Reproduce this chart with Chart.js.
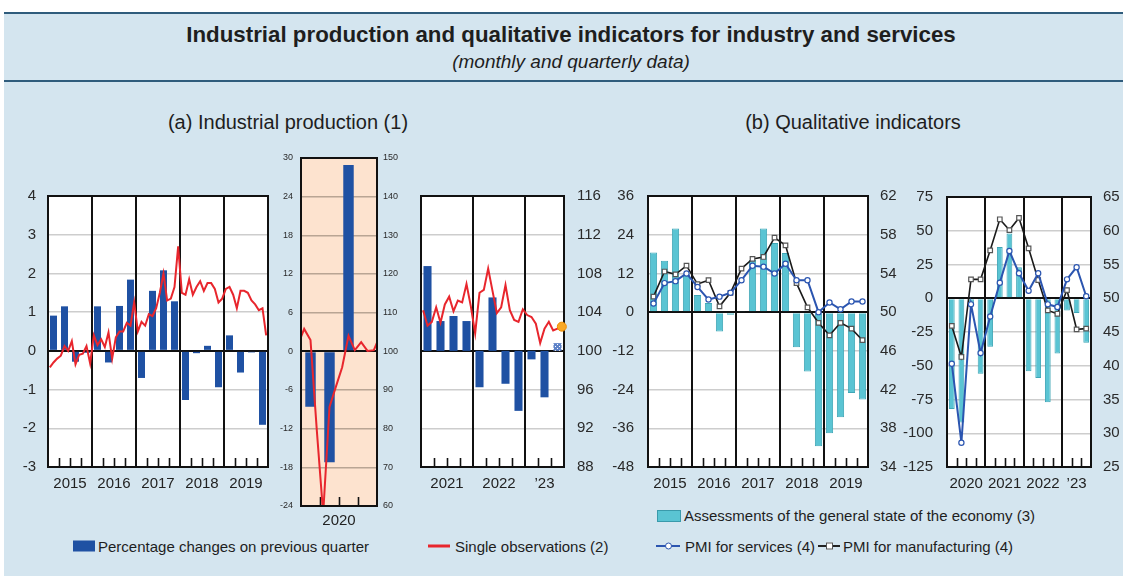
<!DOCTYPE html>
<html><head><meta charset="utf-8">
<script src="https://cdn.jsdelivr.net/npm/chart.js@4.4.1/dist/chart.umd.min.js"></script>
<style>
html,body{margin:0;padding:0;background:#fff;}
#page{position:relative;width:1123px;height:576px;overflow:hidden;background:#fff;font-family:"Liberation Sans",Arial,sans-serif;color:#1e1e1e;}
#panel{position:absolute;left:4px;top:12px;right:0;bottom:0;background:#d4e5ef;}
#band{position:absolute;left:4px;right:0;top:12px;height:66px;border-top:2px solid #2f5c7c;border-bottom:2px solid #2f5c7c;}
.c{position:absolute;white-space:nowrap;transform:translate(-50%,-50%);line-height:1;}
.l{position:absolute;white-space:nowrap;transform:translateY(-50%);line-height:1;font-size:15px;}
canvas{position:absolute;}
.sym{position:absolute;transform:translateY(-50%);}
</style>
</head><body>
<div id="page">
  <div id="panel"></div>
  <div id="band"></div>
  <div class="c" style="left:571px;top:35px;font-size:22.3px;font-weight:bold;">Industrial production and qualitative indicators for industry and services</div>
  <div class="c" style="left:571px;top:61px;font-size:19px;font-style:italic;">(monthly and quarterly data)</div>
  <div class="c" style="left:288px;top:122px;font-size:20px;">(a) Industrial production (1)</div>
  <div class="c" style="left:853px;top:122px;font-size:20px;">(b) Qualitative indicators</div>

  <canvas id="c1" width="265" height="306" style="left:5px;top:186px;"></canvas>
  <canvas id="c2" width="131" height="378" style="left:272px;top:150px;"></canvas>
  <canvas id="c3" width="189" height="306" style="left:415px;top:186px;"></canvas>
  <canvas id="c4" width="300" height="306" style="left:598px;top:186px;"></canvas>
  <canvas id="c5" width="223" height="305" style="left:898px;top:187px;"></canvas>

  <!-- legends -->
  <div class="sym" style="left:657px;top:516px;width:22px;height:10px;background:#5ac4d3;border:1px solid #3a9aab;"></div>
  <div class="l" style="left:684px;top:515px;">Assessments of the general state of the economy (3)</div>

  <div class="sym" style="left:73px;top:546px;width:22px;height:11px;background:#1f51a3;"></div>
  <div class="l" style="left:98px;top:546px;">Percentage changes on previous quarter</div>

  <div class="sym" style="left:428px;top:546px;width:22px;height:3px;background:#e8262d;"></div>
  <div class="l" style="left:455px;top:546px;">Single observations (2)</div>

  <div class="sym" style="left:656px;top:546px;width:24px;height:2px;background:#2b55b0;"></div>
  <div class="sym" style="left:665px;top:546px;width:5px;height:5px;border:1px solid #2b55b0;border-radius:50%;background:#fff;"></div>
  <div class="l" style="left:685px;top:546px;">PMI for services (4)</div>

  <div class="sym" style="left:818px;top:546px;width:22px;height:2px;background:#222;"></div>
  <div class="sym" style="left:826px;top:546px;width:5px;height:5px;border:1px solid #555;background:#fff;"></div>
  <div class="l" style="left:843px;top:546px;">PMI for manufacturing (4)</div>
</div>
<script>
// ================= DATA =================
// (a) Industrial production, 2015-2019
const yearsA1 = ['2015','2016','2017','2018','2019'];
const ipQoQA1 = [0.91,1.15,-0.28,-0.05, 1.15,-0.30,1.16,1.84, -0.70,1.55,2.08,1.28, -1.27,-0.06,0.13,-0.94, 0.40,-0.56,-0.04,-1.91];
const ipIndexA1 = [
  98.3,98.8,99.2,99.5,100.5,100.0,101.0,98.6,99.6,99.7,100.5,98.7,
  101.6,100.6,101.2,100.4,101.9,99.2,101.4,102.0,102.0,102.9,102.6,105.0,
  102.0,103.0,102.6,103.8,103.6,104.4,106.0,108.0,105.2,105.4,106.6,110.8,
  106.0,105.8,107.4,105.8,106.6,107.2,106.2,107.0,107.0,106.4,105.0,105.4,
  106.4,106.6,105.8,104.4,106.2,106.2,106.0,105.2,104.8,104.2,104.4,101.6];

// (a) Industrial production, 2020 (monthly series runs Dec 2019 .. Jan 2021)
const yearsA2 = ['2020'];
const ipQoQA2 = [-8.6,-17.2,28.9,0.0];
const ipIndexA2 = [101.6, 105.8,102.9,79.5,58.0,85.6,90.8,95.9,104.0,100.3,102.4,100.1,100.3, 104.2];
const ipIndexA2FirstMonth = -1;

// (a) Industrial production, 2021-2023 Q3
const yearsA3 = ['2021','2022','\u201923'];
const ipQoQA3 = [2.19,0.77,0.90,0.77, -0.94,1.38,-0.85,-1.55, -0.22,-1.20,0.20];
const ipIndexA3 = [
  104.2,102.6,103.0,104.5,102.9,104.8,105.6,104.1,105.2,105.0,106.9,104.6,
  101.8,106.0,106.3,108.5,106.2,103.9,104.5,106.8,104.2,103.2,103.0,104.3,
  103.7,103.5,102.8,100.8,102.3,103.0,102.1,102.3,102.5];

// (b) Qualitative indicators, 2015-2019 (quarterly)
const yearsB1 = ['2015','2016','2017','2018','2019'];
const assessB1 = [18.5,15.9,25.9,11.5, 5.3,2.8,-6.0,-0.8, 0.2,16.2,25.9,21.4, 18.3,-10.9,-18.4,-41.6, -37.5,-32.6,-25.1,-27.1];
const pmiManB1 = [51.6,54.2,53.9,54.8, 52.9,53.3,50.6,52.0, 54.5,55.5,55.7,57.7, 56.9,53.0,50.5,48.9, 47.6,48.9,48.3,47.1];
const pmiSerB1 = [50.9,53.0,53.2,54.0, 52.6,51.3,51.6,52.0, 53.3,54.8,54.7,54.0, 55.0,53.3,53.3,50.0, 51.0,50.3,51.1,51.1];

// (b) Qualitative indicators, 2020-2023 Q3 (quarterly)
const yearsB2 = ['2020','2021','2022','\u201923'];
const assessB2 = [-82,-92,-6,-56, -36,38,48,23, -54,-59,-77,-41, -9,-11,-33];
const pmiManB2 = [45.9,41.3,52.8,52.8, 57.1,61.7,60.1,61.9, 57.4,52.7,48.2,47.7, 51.2,45.4,45.5];
const pmiSerB2 = [40.3,28.6,49.1,41.9, 47.3,52.3,57.0,53.7, 51.1,53.7,49.1,48.7, 52.8,54.6,50.3];

// ================= HELPERS =================
Chart.defaults.font.family = '"Liberation Sans", Arial, sans-serif';
Chart.defaults.color = '#262626';
const BLUE = '#1f51a3', RED = '#e8262d', CYAN = '#5ac4d3', PBLUE = '#2b55b0';

function geom(years, nQuarters) {
  const nM = nQuarters * 3, mids = [], bounds = [], qmarks = [];
  years.forEach((y, i) => {
    const s = 12 * i, e = Math.min(12 * (i + 1), nM);
    mids.push((s + e) / 2);
    if (i > 0) bounds.push(s);
    for (let m = s + 3; m < e; m += 3) qmarks.push(m);
  });
  return { nM, mids, bounds, qmarks };
}
const quarterPts = arr => arr.map((v, q) => ({ x: 3 * q + 1.5, y: v }));
const monthPts = (arr, first = 0) => arr.map((v, m) => ({ x: first + m + 0.5, y: v }));
const noPad = ax => { ax.paddingTop = 0; ax.paddingBottom = 0; ax.paddingLeft = 0; ax.paddingRight = 0; };

function xAxis(years, g, fontSize, pad, h) {
  return {
    type: 'linear', min: 0, max: g.nM, offset: false,
    grid: { display: false, drawTicks: false }, border: { display: false },
    afterBuildTicks: ax => { ax.ticks = g.mids.map(v => ({ value: v })); },
    afterFit: ax => { ax.height = h; noPad(ax); },
    ticks: { autoSkip: false, maxRotation: 0, minRotation: 0, padding: pad, font: { size: fontSize }, color: '#222',
      callback: (v, i) => years[i] }
  };
}
function yAxis(o) {
  return {
    type: 'linear', position: o.pos, min: o.min, max: o.max, display: o.display !== false,
    ticks: { stepSize: o.step, font: { size: o.font }, padding: o.pad, color: '#2a2a2a' },
    border: { display: false },
    grid: o.grid ? { drawTicks: false, color: c => c.tick.value === o.zero ? '#111' : o.gridColor,
                     lineWidth: c => c.tick.value === o.zero ? 2 : 1.5 }
                 : { display: false, drawTicks: false },
    afterFit: ax => { ax.width = o.width; noPad(ax); }
  };
}
const decor = {
  id: 'decor',
  beforeDraw(chart, args, o) {
    const { ctx, chartArea: a } = chart;
    ctx.save(); ctx.fillStyle = o.bg; ctx.fillRect(a.left, a.top, a.right - a.left, a.bottom - a.top); ctx.restore();
  },
  beforeDatasetsDraw(chart, args, o) {
    const { ctx, chartArea: a } = chart; const x = chart.scales.x;
    ctx.save(); ctx.strokeStyle = '#111';
    ctx.lineWidth = 1.6;
    o.g.qmarks.forEach(m => { const p = Math.round(x.getPixelForValue(m)) + 0.5; ctx.beginPath(); ctx.moveTo(p, a.bottom); ctx.lineTo(p, a.bottom - 9); ctx.stroke(); });
    ctx.lineWidth = 2;
    o.g.bounds.forEach(m => { const p = Math.round(x.getPixelForValue(m)); ctx.beginPath(); ctx.moveTo(p, a.top); ctx.lineTo(p, a.bottom); ctx.stroke(); });
    ctx.restore();
  },
  afterDatasetsDraw(chart, args, o) {
    const { ctx, chartArea: a } = chart;
    ctx.save(); ctx.strokeStyle = '#111'; ctx.lineWidth = 2;
    ctx.strokeRect(a.left, a.top, a.right - a.left, a.bottom - a.top); ctx.restore();
  }
};
function baseOptions(layoutPad, scales, decorOpts) {
  return {
    responsive: false, animation: false, devicePixelRatio: 1,
    layout: { padding: layoutPad },
    plugins: { legend: { display: false }, tooltip: { enabled: false }, decor: decorOpts },
    scales
  };
}
function hatch() {
  const c = document.createElement('canvas'); c.width = 4; c.height = 4;
  const x = c.getContext('2d'); x.fillStyle = '#5d82c8'; x.fillRect(0, 0, 4, 4);
  x.fillStyle = '#ffffff'; x.fillRect(0, 0, 1, 1); x.fillRect(2, 2, 1, 1);
  return x.createPattern(c, 'repeat');
}
// draws the last-observation marker above the frame so it is not clipped
const lastDot = {
  id: 'lastDot',
  afterDraw(chart, args, o) {
    if (!o || !o.enabled) return;
    const meta = chart.getDatasetMeta(0); const pt = meta.data[meta.data.length - 1];
    const { ctx } = chart;
    ctx.save(); ctx.beginPath(); ctx.arc(pt.x, pt.y, 4.5, 0, Math.PI * 2);
    ctx.fillStyle = '#f9a825'; ctx.fill(); ctx.lineWidth = 1; ctx.strokeStyle = '#f08c00'; ctx.stroke(); ctx.restore();
  }
};

// ================= CHART (a) 2015-2019 =================
(() => {
  const g = geom(yearsA1, ipQoQA1.length);
  new Chart(document.getElementById('c1'), {
    type: 'bar',
    data: { datasets: [
      { type: 'line', data: monthPts(ipIndexA1), yAxisID: 'y2', borderColor: RED, borderWidth: 2, pointRadius: 0, tension: 0, order: 0 },
      { type: 'bar', data: quarterPts(ipQoQA1), yAxisID: 'y', backgroundColor: BLUE, categoryPercentage: 0.64, barPercentage: 1, order: 1 }
    ]},
    plugins: [decor],
    options: baseOptions({ left: 0, right: 2, top: 10, bottom: 0 }, {
      x: xAxis(yearsA1, g, 15, 8, 25),
      y: yAxis({ pos: 'left', min: -3, max: 4, step: 1, width: 43, font: 15, pad: 12, grid: true, zero: 0, gridColor: '#cdcdcd' }),
      y2: yAxis({ pos: 'right', min: 88, max: 116, step: 4, width: 0, display: false })
    }, { bg: '#ffffff', g })
  });
})();

// ================= CHART (a) 2020 =================
(() => {
  const g = geom(yearsA2, ipQoQA2.length);
  new Chart(document.getElementById('c2'), {
    type: 'bar',
    data: { datasets: [
      { type: 'line', data: monthPts(ipIndexA2, ipIndexA2FirstMonth), yAxisID: 'y2', borderColor: RED, borderWidth: 2, pointRadius: 0, tension: 0, order: 0 },
      { type: 'bar', data: quarterPts(ipQoQA2), yAxisID: 'y', backgroundColor: BLUE, categoryPercentage: 0.55, barPercentage: 1, order: 1 }
    ]},
    plugins: [decor],
    options: baseOptions({ left: 0, right: 0, top: 8, bottom: 0 }, {
      x: xAxis(yearsA2, g, 15, 6, 22),
      y: yAxis({ pos: 'left', min: -24, max: 30, step: 6, width: 29, font: 9, pad: 8, grid: true, zero: 0, gridColor: 'rgba(130,115,100,0.55)' }),
      y2: yAxis({ pos: 'right', min: 60, max: 150, step: 10, width: 26, font: 9, pad: 6, grid: false })
    }, { bg: '#fde3cf', g })
  });
})();

// ================= CHART (a) 2021-2023 =================
(() => {
  const g = geom(yearsA3, ipQoQA3.length);
  const pat = hatch();
  const lastQ = ipQoQA3.length - 1;
  const opts = baseOptions({ left: 6, right: 0, top: 10, bottom: 0 }, {
      x: xAxis(yearsA3, g, 15, 8, 25),
      y: yAxis({ pos: 'left', min: -3, max: 4, step: 1, width: 0, display: false }),
      y2: yAxis({ pos: 'right', min: 88, max: 116, step: 4, width: 40, font: 15, pad: 13, grid: true, zero: 100, gridColor: '#cdcdcd' })
    }, { bg: '#ffffff', g });
  opts.plugins.lastDot = { enabled: true };
  new Chart(document.getElementById('c3'), {
    type: 'bar',
    data: { datasets: [
      { type: 'line', data: monthPts(ipIndexA3), yAxisID: 'y2', borderColor: RED, borderWidth: 2, tension: 0, order: 0, pointRadius: 0 },
      { type: 'bar', data: quarterPts(ipQoQA3), yAxisID: 'y', categoryPercentage: 0.62, barPercentage: 1, order: 1,
        backgroundColor: c => c.dataIndex === lastQ ? pat : BLUE }
    ]},
    plugins: [decor, lastDot],
    options: opts
  });
})();

// ================= CHART (b) =================
function pmiChart(id, years, assess, man, ser, leftAx, rightAx, pad, barPct) {
  const g = geom(years, assess.length);
  new Chart(document.getElementById(id), {
    type: 'bar',
    data: { datasets: [
      { type: 'line', data: quarterPts(ser), yAxisID: 'y2', borderColor: PBLUE, borderWidth: 2, tension: 0, order: 0,
        pointStyle: 'circle', pointRadius: 2.6, pointBackgroundColor: '#fff', pointBorderColor: PBLUE, pointBorderWidth: 1.2 },
      { type: 'line', data: quarterPts(man), yAxisID: 'y2', borderColor: '#1a1a1a', borderWidth: 1.6, tension: 0, order: 1,
        pointStyle: 'rect', pointRadius: 3.2, pointBackgroundColor: '#fff', pointBorderColor: '#555', pointBorderWidth: 1.2 },
      { type: 'bar', data: quarterPts(assess), yAxisID: 'y', backgroundColor: CYAN, borderColor: '#3fa6b6', borderWidth: 1,
        categoryPercentage: barPct, barPercentage: 1, order: 2 }
    ]},
    plugins: [decor],
    options: baseOptions(pad, {
      x: xAxis(years, g, 15, 8, 25),
      y: yAxis(leftAx),
      y2: yAxis(rightAx)
    }, { bg: '#ffffff', g })
  });
}
pmiChart('c4', yearsB1, assessB1, pmiManB1, pmiSerB1,
  { pos: 'left', min: -48, max: 36, step: 12, width: 50, font: 15, pad: 14, grid: true, zero: 0, gridColor: '#cdcdcd' },
  { pos: 'right', min: 34, max: 62, step: 4, width: 30, font: 15, pad: 12, grid: false },
  { left: 0, right: 0, top: 10, bottom: 0 }, 0.66);
pmiChart('c5', yearsB2, assessB2, pmiManB2, pmiSerB2,
  { pos: 'left', min: -125, max: 75, step: 25, width: 49, font: 15, pad: 14, grid: true, zero: 0, gridColor: '#cdcdcd' },
  { pos: 'right', min: 25, max: 65, step: 5, width: 30, font: 15, pad: 12, grid: false },
  { left: 0, right: 0, top: 10, bottom: 0 }, 0.6);
</script>
</body></html>
